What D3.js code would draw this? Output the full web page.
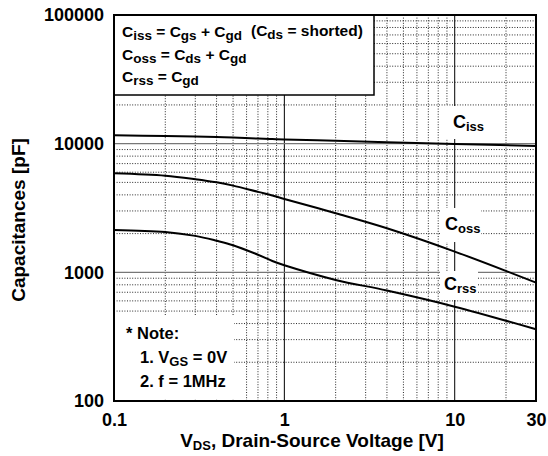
<!DOCTYPE html>
<html>
<head>
<meta charset="utf-8">
<script src="https://cdn.jsdelivr.net/npm/d3@7"></script>
<style>
  body { margin: 0; background: #fff; }
  svg { font-family: "Liberation Sans", Arial, sans-serif; font-weight: bold; }
</style>
</head>
<body>
<svg id="canvas" width="548" height="456"></svg>
<script>
(function () {
    // values
    var vds  = [0.1, 0.2, 0.3, 0.4, 0.5, 0.7, 0.85, 1, 2, 4, 10, 30];
    var ciss = [11600, 11450, 11350, 11250, 11150, 10950, 10850, 10780, 10550, 10250, 9950, 9600];
    var coss = [5890, 5640, 5300, 5010, 4720, 4220, 3960, 3720, 2880, 2200, 1450, 832];
    var crss = [2135, 2060, 1920, 1760, 1625, 1370, 1225, 1135, 873, 722, 541, 361];
    var xTicks = [0.1, 1, 10, 30];
    var yTicks = [100, 1000, 10000, 100000];
    var xMajor = [1, 10];
    var yMajor = [1000, 10000];

    var left = 114, top = 15, width = 422, height = 386;

    const svg = d3.select("#canvas");
    const chart = svg.append("g").attr("transform", `translate(${left}, ${top})`);

    var x = d3.scaleLog().domain([0.1, 30]).range([0, width]);
    var y = d3.scaleLog().domain([100, 100000]).range([height, 0]);

    // minor dotted grid
    var isDecade = function (v) { return Math.abs(Math.log10(v) - Math.round(Math.log10(v))) < 1e-6; };
    chart.append("g").selectAll("line")
        .data(x.ticks().filter(function (d) { return !isDecade(d) && d < 30; }))
        .join("line")
        .attr("x1", function (d) { return x(d); }).attr("x2", function (d) { return x(d); })
        .attr("y1", 0).attr("y2", height)
        .attr("stroke", "#111").attr("stroke-width", 0.9).attr("stroke-dasharray", "1,1.6");
    chart.append("g").selectAll("line")
        .data(y.ticks().filter(function (d) { return !isDecade(d); }))
        .join("line")
        .attr("y1", function (d) { return y(d); }).attr("y2", function (d) { return y(d); })
        .attr("x1", 0).attr("x2", width)
        .attr("stroke", "#111").attr("stroke-width", 0.9).attr("stroke-dasharray", "1,1.6");

    // major grid
    chart.append("g").selectAll("line").data(xMajor).join("line")
        .attr("x1", function (d) { return x(d); }).attr("x2", function (d) { return x(d); })
        .attr("y1", 0).attr("y2", height)
        .attr("stroke", "#000").attr("stroke-width", 1);
    chart.append("g").selectAll("line").data(yMajor).join("line")
        .attr("y1", function (d) { return y(d); }).attr("y2", function (d) { return y(d); })
        .attr("x1", 0).attr("x2", width)
        .attr("stroke", "#777").attr("stroke-width", 1.3);

    // white patches behind the curve labels and the note
    var patches = [
        [444 - left, 106 - top, 40, 33],
        [440 - left, 208 - top, 41, 34],
        [440 - left, 271 - top, 38, 29],
        [1, 316 - top, 119, 83]
    ];
    chart.append("g").selectAll("rect").data(patches).join("rect")
        .attr("x", function (d) { return d[0]; }).attr("y", function (d) { return d[1]; })
        .attr("width", function (d) { return d[2]; }).attr("height", function (d) { return d[3]; })
        .attr("fill", "#fff");

    // legend box
    chart.append("rect")
        .attr("x", 0).attr("y", 0).attr("width", 260).attr("height", 80)
        .attr("fill", "#fff").attr("stroke", "#000").attr("stroke-width", 1.5);

    // curves
    var line = d3.line()
        .x(function (d) { return x(d[0]); })
        .y(function (d) { return y(d[1]); })
        .curve(d3.curveCatmullRom.alpha(0.5));
    [ciss, coss, crss].forEach(function (s) {
        chart.append("path")
            .datum(vds.map(function (v, i) { return [v, s[i]]; }))
            .attr("fill", "none").attr("stroke", "#000").attr("stroke-width", 2)
            .attr("d", line);
    });

    // frame
    chart.append("rect")
        .attr("width", width).attr("height", height)
        .attr("fill", "none").attr("stroke", "#000").attr("stroke-width", 2);

    // axes
    chart.append("g")
        .attr("transform", "translate(0," + height + ")")
        .call(d3.axisBottom(x).tickValues(xTicks).tickSize(0).tickFormat(function (d) { return String(d); }))
        .call(function (g) { g.select(".domain").remove(); })
        .selectAll("text")
        .attr("y", 25).attr("dy", 0)
        .attr("font-size", 18).attr("font-weight", "bold")
        .attr("font-family", "Liberation Sans, Arial, sans-serif").attr("fill", "#000");

    chart.append("g")
        .call(d3.axisLeft(y).tickValues(yTicks).tickSize(0).tickPadding(10).tickFormat(function (d) { return String(d); }))
        .call(function (g) { g.select(".domain").remove(); })
        .selectAll("text")
        .attr("font-size", 18).attr("font-weight", "bold")
        .attr("font-family", "Liberation Sans, Arial, sans-serif").attr("fill", "#000");

    // text with subscripts
    function rich(x0, y0, size, subSize, shift, parts) {
        var t = svg.append("text").attr("x", x0).attr("y", y0).attr("font-size", size);
        var down = false;
        parts.forEach(function (p) {
            var ts = t.append("tspan").text(p[0]);
            var sub = !!p[1];
            if (sub) ts.attr("font-size", subSize);
            if (sub && !down) { ts.attr("dy", shift); down = true; }
            else if (!sub && down) { ts.attr("dy", -shift); down = false; }
        });
        return t;
    }

    rich(122, 37, 15.5, 13.5, 3, [["C"], ["iss", 1], [" = C"], ["gs", 1], [" + C"], ["gd", 1]]);
    rich(251, 36, 15.5, 13.5, 3, [["(C"], ["ds", 1], [" = shorted)"]]);
    rich(122, 60, 15.5, 13.5, 3, [["C"], ["oss", 1], [" = C"], ["ds", 1], [" + C"], ["gd", 1]]);
    rich(122, 82, 15.5, 13.5, 3, [["C"], ["rss", 1], [" = C"], ["gd", 1]]);

    rich(453, 128, 18, 13, 3, [["C"], ["iss", 1]]);
    rich(445, 230, 18, 13, 3, [["C"], ["oss", 1]]);
    rich(444, 290, 18, 13, 3, [["C"], ["rss", 1]]);

    rich(126, 339, 16.5, 13, 3, [["* Note:"]]);
    rich(140, 363, 16.5, 13, 3, [["1. V"], ["GS", 1], [" = 0V"]]);
    rich(140, 387, 16.5, 13, 3, [["2. f = 1MHz"]]);

    rich(312, 447, 19, 13, 3, [["V"], ["DS", 1], [", Drain-Source Voltage [V]"]])
        .attr("text-anchor", "middle");

    svg.append("text")
        .attr("transform", "translate(25,220) rotate(-90)")
        .attr("text-anchor", "middle").attr("font-size", 19)
        .text("Capacitances [pF]");
})();
</script>
</body>
</html>
